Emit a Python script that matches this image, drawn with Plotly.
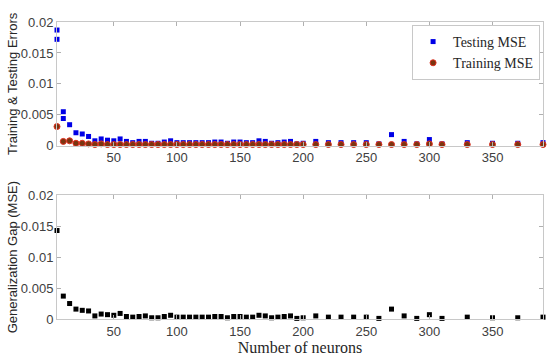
import plotly.graph_objects as go
from plotly.subplots import make_subplots

neurons = [5, 10, 15, 20, 25, 30, 35, 40, 45, 50, 55, 60, 65, 70, 75, 80, 85, 90, 95, 100,
           105, 110, 115, 120, 125, 130, 135, 140, 145, 150, 155, 160, 165, 170, 175, 180, 185, 190, 195, 200,
           210, 220, 230, 240, 250, 260, 270, 280, 290, 300, 310, 330, 350, 370, 390]

testing_mse = [0.0172, 0.0044, 0.0034, 0.0021, 0.0019, 0.0015, 0.0008, 0.0011, 0.0009, 0.0008,
               0.0011, 0.0007, 0.0005, 0.0007, 0.0007, 0.0004, 0.0004, 0.0006, 0.0008, 0.0005,
               0.0005, 0.0005, 0.0005, 0.0005, 0.0005, 0.0006, 0.0006, 0.0004, 0.0006, 0.0006,
               0.0005, 0.0005, 0.0008, 0.0007, 0.0004, 0.0005, 0.0006, 0.0007, 0.0003, 0.0004,
               0.0007, 0.0005, 0.0005, 0.0005, 0.0005, 0.0003, 0.0018, 0.0007, 0.0003, 0.0010,
               0.0003, 0.0005, 0.0004, 0.0004, 0.0005]

# additional testing runs visible at the smallest network sizes
extra_test_neurons = [5, 10]
extra_test_mse = [0.0187, 0.0055]

training_mse = [0.0031, 0.0007, 0.0008, 0.0004, 0.0004, 0.0003, 0.0002, 0.0003, 0.0002, 0.0002,
                0.0002, 0.0002, 0.0002, 0.0002, 0.0002, 0.0002, 0.0002, 0.0002, 0.0002, 0.0002,
                0.0002, 0.0002, 0.0002, 0.0002, 0.0002, 0.0002, 0.0002, 0.0002, 0.0002, 0.0002,
                0.0002, 0.0002, 0.0002, 0.0002, 0.0002, 0.0002, 0.0002, 0.0002, 0.0002, 0.0002,
                0.0002, 0.0002, 0.0002, 0.0002, 0.0002, 0.0002, 0.0002, 0.0002, 0.0002, 0.0003,
                0.0002, 0.0002, 0.0002, 0.0002, 0.0002]

gap_mse = [0.0143, 0.0037, 0.0025, 0.0016, 0.0014, 0.0013, 0.0005, 0.0008, 0.0007, 0.0006,
           0.0009, 0.0004, 0.0003, 0.0004, 0.0005, 0.0002, 0.0002, 0.0004, 0.0006, 0.0003,
           0.0003, 0.0003, 0.0003, 0.0003, 0.0003, 0.0004, 0.0004, 0.0002, 0.0004, 0.0004,
           0.0003, 0.0003, 0.0006, 0.0005, 0.0002, 0.0003, 0.0004, 0.0005, 0.0001, 0.0002,
           0.0005, 0.0003, 0.0003, 0.0003, 0.0003, 0.0001, 0.0016, 0.0005, 0.0001, 0.0007,
           0.0001, 0.0003, 0.0002, 0.0002, 0.0003]

y_ticks = [0, 0.005, 0.01, 0.015, 0.02]
y_tick_text = ["0", "0.005", "0.01", "0.015", "0.02"]
x_ticks = [50, 100, 150, 200, 250, 300, 350]

fig = make_subplots(rows=2, cols=1, vertical_spacing=0.1667)

fig.add_trace(go.Scatter(
    x=neurons + extra_test_neurons, y=testing_mse + extra_test_mse,
    mode="markers", name="Testing MSE", cliponaxis=False,
    marker=dict(symbol="square", size=5, color="#0000e6", line=dict(width=0))), row=1, col=1)
fig.add_trace(go.Scatter(
    x=neurons, y=training_mse, mode="markers", name="Training MSE", cliponaxis=False,
    marker=dict(symbol="circle", size=6, color="#7a3510", line=dict(width=1, color="#e03020"))), row=1, col=1)
fig.add_trace(go.Scatter(
    x=neurons, y=gap_mse, mode="markers", name="Gap", showlegend=False, cliponaxis=False,
    marker=dict(symbol="square", size=5, color="#000000", line=dict(width=0))), row=2, col=1)

axis_common = dict(showline=True, linecolor="#c8c8c8", linewidth=1, mirror="ticks",
                   ticks="inside", ticklen=4, tickcolor="#b0b0b0", showgrid=False, zeroline=False,
                   tickfont=dict(family="Liberation Sans", size=13, color="#404040"))

for r in (1, 2):
    fig.update_xaxes(range=[5, 390], tickvals=x_ticks, row=r, col=1, **axis_common)
    fig.update_yaxes(range=[0, 0.02], tickvals=y_ticks, ticktext=y_tick_text, row=r, col=1, **axis_common)

fig.update_yaxes(title=dict(text="Training & Testing Errors", standoff=0,
                            font=dict(family="Liberation Sans", size=13, color="#262626")), row=1, col=1)
fig.update_yaxes(title=dict(text="Generalization Gap (MSE)", standoff=0,
                            font=dict(family="Liberation Sans", size=13, color="#262626")), row=2, col=1)
fig.update_xaxes(title=dict(text="Number of neurons", standoff=2,
                            font=dict(family="Liberation Serif", size=16, color="#262626")), row=2, col=1)

fig.update_layout(
    width=550, height=358,
    margin=dict(l=57, r=6, t=22, b=36),
    paper_bgcolor="white", plot_bgcolor="white",
    legend=dict(x=0.994, y=0.99, xanchor="right", yanchor="top",
                bgcolor="white", bordercolor="#c8c8c8", borderwidth=1,
                font=dict(family="Liberation Serif", size=14, color="#262626"),
                itemwidth=30, tracegroupgap=0),
)

fig.write_html("out.html", config={"displayModeBar": False},
               post_script="document.body.style.margin='0';document.body.style.padding='0';")
